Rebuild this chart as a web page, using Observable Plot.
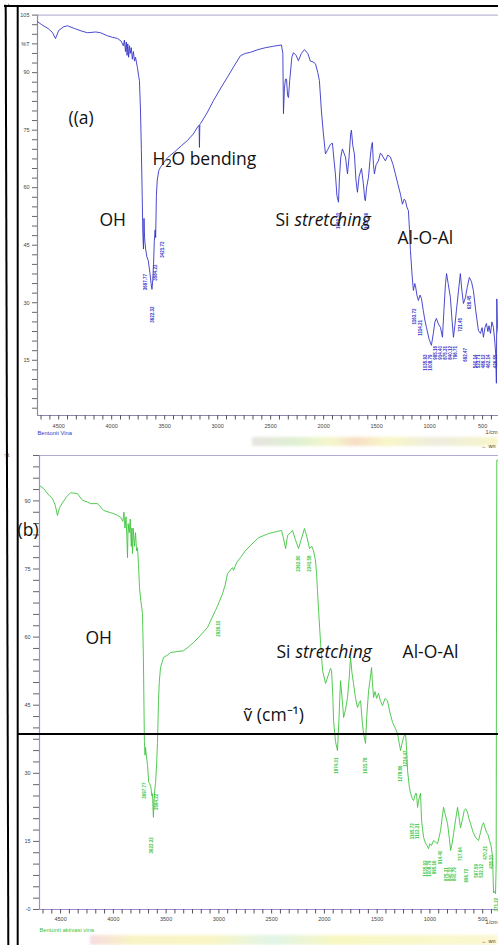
<!DOCTYPE html>
<html><head><meta charset="utf-8">
<script src="https://cdn.jsdelivr.net/npm/d3@7"></script>
<script src="https://cdn.jsdelivr.net/npm/@observablehq/plot@0.6"></script>
<style>
body{margin:0;background:#fff;}
#wrap{position:relative;width:498px;height:945px;overflow:hidden;background:#fff;}
#a{position:absolute;left:0;top:0;}
#b{position:absolute;left:0;top:450px;}
.band{position:absolute;filter:blur(1.5px);opacity:.6;}
#band1{left:252px;top:437px;width:246px;height:9px;background:linear-gradient(90deg,#d8d2cc 0%,#c9e7b4 18%,#eef2a8 32%,#f2c8a0 42%,#f6f2a4 55%,#e2e0c8 75%,#f4f0a4 100%);}
#band2{left:90px;top:935px;width:408px;height:10px;background:linear-gradient(90deg,#f0c4cc 0%,#f6eca0 10%,#f6f0a0 30%,#cdeed8 45%,#f4f29a 60%,#f8f2b4 100%);}
#frame{position:absolute;left:0;top:0;pointer-events:none;}
</style></head>
<body>
<div id="wrap">
  <div class="band" id="band1"></div>
  <div class="band" id="band2"></div>
  <div id="a"></div>
  <div id="b"></div>
  <svg id="frame" width="498" height="945">
    <line x1="4" y1="6" x2="498" y2="6" stroke="#000" stroke-width="2"/>
    <line x1="5.7" y1="5" x2="8.3" y2="945" stroke="#000" stroke-width="2"/>
    <line x1="17.7" y1="5" x2="17.7" y2="945" stroke="#000" stroke-width="2"/>
    <line x1="17" y1="734" x2="498" y2="734" stroke="#000" stroke-width="2"/>
  </svg>
</div>
<script>
// ---------- spectrum (a): Bentonit Vina ----------
const wnA = [4700,4660,4600,4560,4530,4500,4450,4417,4350,4280,4228,4150,4105,4040,3990,3945,3910,
  3890,3880,3870,3862,3855,3848,3840,3832,3825,3815,3805,3795,3785,3775,3765,3757,3745,3738,3728,3720,3712,3706,
  3700,3695,3690,3680,3668,3655,3640,3628,3620,3612,3605,3598,3590,3585,3578,3570,3555,3540,3510,3474,3400,3340,
  3285,3230,3190,3175,3172,3168,3162,3100,3040,2970,2908,2850,2785,2740,2690,2620,2549,2470,2398,2385,2379,2370,
  2360,2350,2340,2332,2320,2300,2285,2260,2238,2210,2181,2150,2125,2100,2077,2055,2040,2021,2002,1983,1960,1936,
  1917,1905,1889,1875,1860,1850,1838,1823,1808,1794,1775,1760,1745,1738,1725,1710,1695,1681,1665,1643,1625,1612,
  1606,1595,1577,1560,1548,1540,1530,1521,1505,1483,1465,1455,1440,1417,1395,1370,1345,1323,1300,1275,1257,1240,
  1228,1215,1200,1190,1181,1165,1153,1140,1134,1120,1106,1090,1077,1060,1045,1030,1005,983,965,950,936,918,898,
  879,865,850,840,825,804,790,775,762,747,728,710,695,681,672,662,645,625,605,587,565,540,520,505,492,478,464,
  450,440,426,412,398,385,375,370,366,360,352];
const tA = [103.3,102.5,101.5,100.5,98.9,101.0,102.0,102.2,101.5,100.8,100.4,100.6,100.4,99.6,99.2,98.9,98.2,
  97.0,98.5,95.5,98.0,94.5,97.5,94.0,97.0,95.0,96.5,93.5,95.5,93.0,94.0,92.5,91.3,89.0,87.9,80,70,58,48,
  44,52,47,44,42,41,38,35,33.5,36,40,46,49,47,58,62,64.5,65.3,66.5,67.8,69.5,71,
  72.3,74,75.8,76.3,70.5,76.5,76.7,79.5,82.7,86,88.8,91.5,94.4,95,95.3,96,96.5,96.9,97.2,95,79.3,86,
  88.3,88.3,84,83.5,88,94,95.2,94.5,93.1,95,96,95,93,92.8,92.3,90,87.9,80,74,68.8,70,71.3,
  71.6,68,63.6,58,56.2,63,68,70.1,69,68,63.6,68,74,75,71,68.8,62,58.8,63,65,61,57,
  56.6,60,62.7,68,71,71.8,66,63.6,66,67,69,68.8,68,67,68.5,68,66,63.6,61,58.3,55.7,57,
  56.6,55,54,49,43.6,37,33.2,35,34.5,32,30.6,32,31.1,28,25.5,23.6,20.5,18.9,22,25,25.9,24.5,23.6,
  21,28,35,37.6,35,31.4,26,21,24,28,33,37.6,33,29.8,30.5,31.4,34,36.6,35.5,33.2,28,22.8,22,23.5,21,23.5,24.6,
  22.5,24,22,25,23.6,20,16,9,31,24,22];

// ---------- spectrum (b): Bentonit aktivasi vina ----------
const wnB = [4700,4660,4620,4577,4550,4530,4510,4482,4440,4406,4340,4292,4250,4217,4150,4093,4040,3998,3960,3932,
  3910,3900,3890,3880,3872,3866,3860,3850,3840,3830,3825,3819,3812,3800,3790,3780,3771,3762,3752,3740,3724,3715,
  3710,3706,3700,3695,3688,3676,3665,3657,3645,3635,3629,3622,3620,3615,3605,3600,3590,3582,3572,3565,3553,3525,
  3490,3458,3400,3335,3290,3240,3170,3108,3070,3032,3010,2965,2940,2918,2890,2871,2861,2830,2795,2750,2700,2624,
  2530,2460,2406,2390,2368,2355,2349,2320,2302,2275,2245,2220,2189,2165,2141,2120,2103,2085,2074,2065,2055,2036,
  2017,1989,1965,1942,1932,1920,1913,1895,1876,1862,1847,1830,1818,1800,1781,1765,1752,1738,1724,1705,1686,1670,
  1657,1640,1629,1610,1600,1581,1565,1553,1545,1534,1520,1505,1487,1470,1449,1425,1402,1380,1354,1330,1307,1290,
  1278,1265,1250,1231,1220,1212,1195,1183,1168,1155,1136,1127,1117,1108,1089,1079,1060,1040,1025,1013,1000,985,
  965,945,928,912,899,885,871,855,833,815,804,790,776,755,738,725,710,690,675,662,645,630,615,590,567,553,539,
  520,505,492,478,463,450,435,420,406,397,388,378,372,369,366,360,350];
const tB = [93.4,92.7,91.5,90.5,89,86.8,88.5,89.6,91,91.8,91.6,90.1,89.8,89.4,89.4,87.9,87.5,87.2,86.8,86.4,
  85.5,87.5,84,86.5,82,77.5,85,83,86,80,84,78.4,84,80,83,79,79.7,76,70.9,68,65.2,55,
  45,37,34,35.7,34,31.7,28,27.8,27,25,25.5,21,20.3,24,27,27.8,32,36.6,46,50,53.3,55.5,
  56,56.6,56.8,57,57.8,58.8,60.5,62.1,64,65.9,67,69.6,71.5,74,74.8,75.3,74.7,76.5,77.5,79,80.2,81.9,
  82.8,83.2,83.5,82,79.5,81.5,82.4,83,83.5,81.5,79.5,81.5,83.9,82,79.5,80,79,77,74,70,65.9,58.6,
  52.6,49.8,51.5,53.1,52.6,47,41.6,37,35,42,50.4,46,42.3,44,46.7,51,55.5,52,49.8,46.5,44.5,45.5,
  46,41,38.8,36.6,42,48.2,51,53.3,50,46.7,48,46.5,47.6,46,44.9,46.5,46,43.5,41.2,40,38.8,36.5,
  35,36.5,37.9,38.8,35,30.6,27,25.6,24.5,24,25.6,25.5,22.5,24,25.6,19.6,15.9,14.5,14,13.4,14.5,14.1,
  15.2,14.8,14.5,16,17.4,20,22.5,21,18.9,15.5,13,14.5,16.7,20,22.5,20.5,18,20,21.8,22.2,21.5,20,18.9,17,15.9,15.5,15.2,
  17,18.5,19.1,18,17,16.5,15.2,14,11.5,3.7,4,3.5,10,60,99,99,99];

// ---------- peak labels ----------
const peakWnA = [3681,3618,3585,3524,1860,1596,1143,1087,1040,992,945,898,851,804,757,710,662,625,568,540,492,445,379];
const peakTA  = [37.5,29,40,46,53.5,53.5,28.5,25.5,16.5,16.5,18.7,18.7,18.7,18.7,18.7,26,18.2,31.9,16.5,16.5,16.5,16.5,16.5];
const peakTextA = ["3697.77","3622.32","3584.22","3421.72","1869.31","1637.56","1163.72","1114.21","1035.93","1008.79",
  "995.16","914.40","875.31","840.12","796.71","721.45","692.47","626.45","540.14","523.71","486.12","462.14","426.55"];
const peakWnB = [3705,3638,3591,3003,2245,2141,1885,1610,1278,1231,1164,1117,1041,1003,956,899,842,804,766,710,653,558,511,473,416,368];
const peakTB  = [28,15.9,25.5,63.6,78,78,33.5,33.5,31.7,35,19,19,10.8,10.8,10.8,13,9.3,9.3,9.3,13.7,9,10,10,14,12,2.6];
const peakTextB = ["3697.77","3622.32","3584.22","2926.11","2362.80","2341.58","1874.01","1631.78","1278.86","1234.47",
  "1165.72","1112.21","1035.93","1008.79","995.16","914.40","875.31","840.12","800.79","717.64","696.72","567.59",
  "532.12","470.21","428.20","371.22"];

// ---------- annotations ----------
const annTextA = ["((a)","H₂O bending","OH","Si","Al-O-Al"];
const annWnA = [4407,3615,4115,2455,1304];
const annTA = [78.0,67.3,51.4,51.5,46.8];
const annTextB = ["(b)","OH","Si","Al-O-Al","ṽ (cm⁻¹)"];
const annWnB = [4908,4264,2454,1259,2766];
const annTB = [83.5,59.7,56.6,56.6,42.7];
const italicWord = "stretching";

// ---------- ticks ----------
const xTickLabels = [4500,4000,3500,3000,2500,2000,1500,1000,500];
const yTickValuesA = [15,30,45,60,75,90,97.5,105];
const yTickLabelsA = ["15","30","45","60","75","90","%T","105"];
const yTickValuesB = [0,15,30,45,60,75,90];
const yTickLabelsB = ["-0","15","30","45","60","75","90"];
const sampleA = "Bentonit Vina";
const sampleB = "Bentonit aktivasi vina";
const unitLabel = "1/cm";

const xMinor = d3.range(5, 57).map(i => i * 500 / 6);
const yMinorA = d3.range(1, 43).map(i => i * 2.5);
const yMinorB = d3.range(0, 41).map(i => i * 2.5);
const xFmt = d => { const r = Math.round(d); return xTickLabels.includes(r) && Math.abs(r - d) < 1e-6 ? String(r) : ""; };
const yFmt = (vals, labs) => d => { const i = vals.indexOf(d); return i >= 0 ? labs[i] : ""; };

const rows = (w, t) => w.map((v, i) => ({wn: v, t: t[i]}));
const peaks = (w, t, s) => w.map((v, i) => ({wn: v, t: t[i], s: s[i]}));

function panel(o) {
  const annRows = o.annText.map((s, i) => ({s, wn: o.annWn[i], t: o.annT[i]}));
  const siRow = annRows.filter(d => d.s === "Si");
  return Plot.plot({
    width: 498, height: o.height,
    marginLeft: o.ml, marginRight: 0, marginTop: o.mt, marginBottom: o.mb,
    x: {domain: [4700, 350]},
    y: {domain: o.ydom},
    style: {background: "transparent", fontFamily: "Liberation Sans, Arial, sans-serif", overflow: "visible"},
    marks: [
      Plot.ruleY([o.ydom[1]], {stroke: o.frameColor, strokeWidth: 1}),
      Plot.ruleY([o.ydom[0]], {stroke: o.axisColor, strokeWidth: 1}),
      Plot.ruleX([4700], {stroke: o.axisColor, strokeWidth: 1.2}),
      Plot.axisX({ticks: xMinor, tickFormat: xFmt, tickSize: 4.5, tickPadding: o.xpad, fontSize: 5.5,
        stroke: "#555", fill: "#444"}),
      Plot.axisY({ticks: o.yMinor, tickFormat: yFmt(o.yVals, o.yLabs), tickSize: o.ytick, tickPadding: 3, fontSize: 5.5,
        stroke: "#666", fill: "#444"}),
      Plot.line(rows(o.wn, o.t), {x: "wn", y: "t", stroke: o.color, strokeWidth: 0.9}),
      Plot.text(peaks(o.pw, o.pt, o.ps), {x: "wn", y: "t", text: "s", rotate: -90, textAnchor: "end",
        fontSize: 4.5, fill: o.color, fontWeight: "bold"}),
      Plot.text(annRows, {x: "wn", y: "t", text: "s", textAnchor: "start", lineAnchor: "middle",
        fontSize: 17.5, fontFamily: "Open Sans", fill: "#111"}),
      Plot.text(siRow, {x: "wn", y: "t", text: () => italicWord, textAnchor: "start", lineAnchor: "middle",
        dx: 19, fontSize: 17.5, fontFamily: "Open Sans", fontStyle: "italic", fill: "#111"}),
      Plot.text([o.sample], {frameAnchor: "bottom-left", text: d => d, textAnchor: "start", dy: o.sdy,
        fontSize: 5.8, fill: o.color}),
      Plot.text([unitLabel], {frameAnchor: "bottom-right", text: d => d, textAnchor: "end", dx: -1, dy: o.udy,
        fontSize: 5.5, fill: "#444"})
    ]
  });
}

document.getElementById("a").append(panel({
  height: 450, ml: 37, mt: 14.6, mb: 35, ydom: [0.6, 105],
  wn: wnA, t: tA, color: "#3636c8", frameColor: "#aaa6c8", axisColor: "#8c88b4",
  yMinor: yMinorA, yVals: yTickValuesA, yLabs: yTickLabelsA, ytick: 5, xpad: 4.5,
  pw: peakWnA, pt: peakTA, ps: peakTextA,
  annText: annTextA, annWn: annWnA, annT: annTA,
  sample: sampleA, sdy: 19, udy: 18
}));
document.getElementById("b").append(panel({
  height: 495, ml: 39, mt: 5, mb: 36, ydom: [0, 100],
  wn: wnB, t: tB, color: "#3ec43e", frameColor: "#b4a8d4", axisColor: "#a58ad8",
  yMinor: yMinorB, yVals: yTickValuesB, yLabs: yTickLabelsB, ytick: 6, xpad: 3.5,
  pw: peakWnB, pt: peakTB, ps: peakTextB,
  annText: annTextB, annWn: annWnB, annT: annTB,
  sample: sampleB, sdy: 22, udy: 14
}));
</script>
</body></html>
